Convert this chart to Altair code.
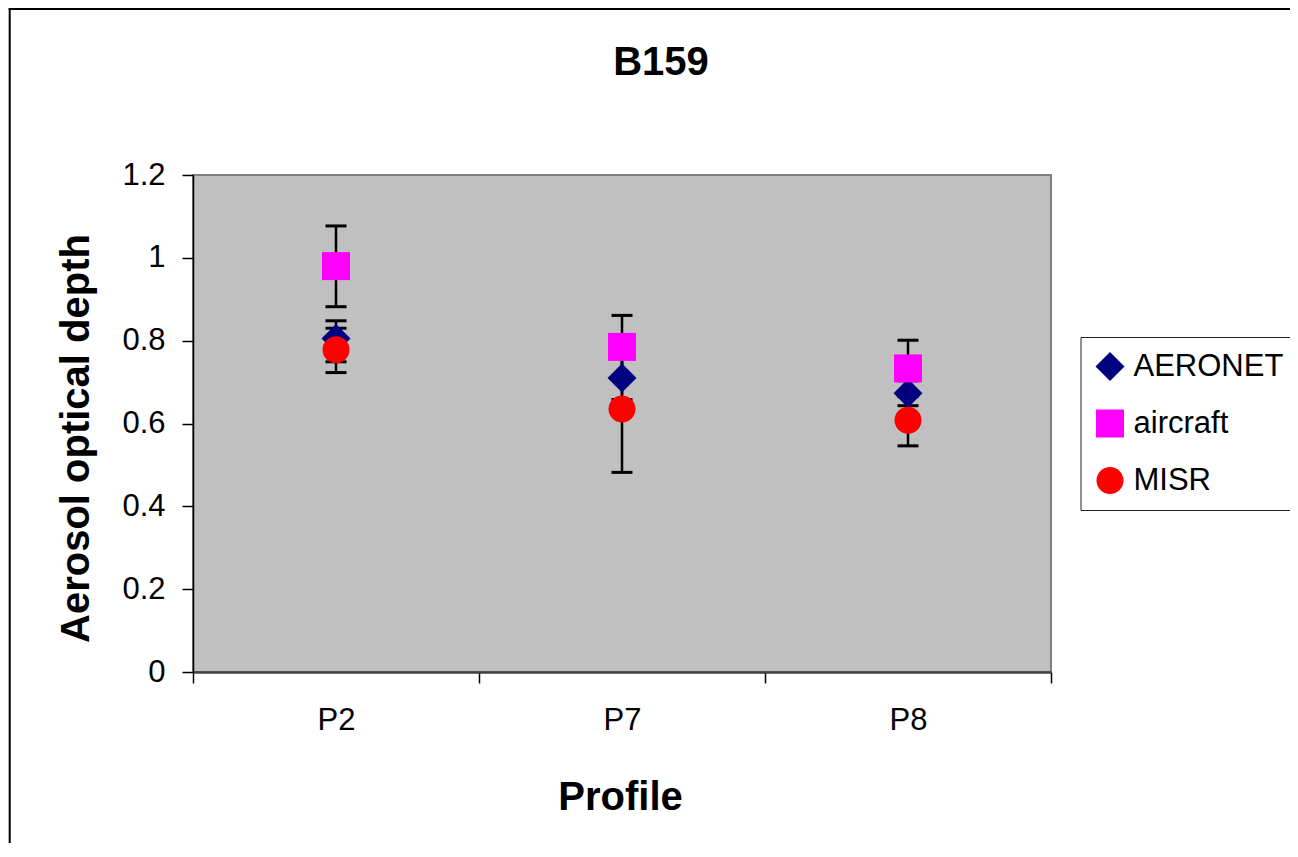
import json
import altair as alt
import pandas as pd

# ---- data ----
profiles = ["P2", "P7", "P8"]
series = ["AERONET", "aircraft", "MISR"]
colors = ["#000080", "#FF00FF", "#FF0000"]
shapes = ["diamond", "square", "circle"]
sizes = [841, 729, 729]

aeronet = [0.805, 0.710, 0.673]
aeronet_low = [0.749, 0.658, 0.643]
aeronet_high = [0.848, 0.762, 0.703]

aircraft = [0.980, 0.785, 0.733]
aircraft_low = [0.882, 0.709, 0.665]
aircraft_high = [1.077, 0.861, 0.801]

misr = [0.778, 0.635, 0.608]
misr_low = [0.723, 0.482, 0.546]
misr_high = [0.830, 0.788, 0.670]

y_ticks = [0, 0.2, 0.4, 0.6, 0.8, 1.0, 1.2]

vals = {"AERONET": (aeronet, aeronet_low, aeronet_high),
        "aircraft": (aircraft, aircraft_low, aircraft_high),
        "MISR": (misr, misr_low, misr_high)}

rows = []
for s in series:
    v, lo, hi = vals[s]
    for i, p in enumerate(profiles):
        rows.append({"series": s, "Profile": p, "pos": i + 0.5,
                     "value": v[i], "low": lo[i], "high": hi[i]})
df = pd.DataFrame(rows)

FONT = "Liberation Sans"
n = len(profiles)
x_vals = [k / 2 for k in range(2 * n + 1)]
label_expr = f"datum.value % 1 == 0.5 ? {json.dumps(profiles)}[floor(datum.value)] : ''"

x_scale = alt.Scale(domain=[0, n], nice=False, zero=False)
y_scale = alt.Scale(domain=[0, 1.2], nice=False)

x_axis = alt.Axis(values=x_vals, labelExpr=label_expr, labelOverlap=False, labelFlush=False,
                  tickOpacity={"condition": {"test": "datum.value % 1 != 0", "value": 0}, "value": 1},
                  tickSize=11, tickWidth=1.5, tickColor="black",
                  domainColor="#404040", domainWidth=2.5,
                  labelPadding=22, labelFontSize=31, labelFont=FONT, labelColor="black",
                  title="Profile", titleFont=FONT, titleFontSize=40, titleFontWeight="bold",
                  titleColor="black", titleX=427, titleY=137, titleBaseline="alphabetic",
                  titleAlign="center", grid=False)

y_axis = alt.Axis(values=y_ticks, format="~g", tickSize=11, tickWidth=1.5, tickColor="black",
                  domainColor="black", domainWidth=1.5, labelPadding=17, labelFontSize=31,
                  labelFont=FONT, labelColor="black",
                  title="Aerosol optical depth", titleFont=FONT, titleFontSize=40,
                  titleFontWeight="bold", titleColor="black", titleX=-105, titleY=263,
                  titleAngle=270, titleAlign="center", titleBaseline="alphabetic", grid=False)

one = alt.Data(values=[{"a": 1}])
frame_left = alt.Chart(one).mark_rule(color="black", strokeWidth=2).encode(
    x=alt.value(-183.3), y=alt.value(-167), y2=alt.value(900))
frame_top = alt.Chart(one).mark_rule(color="black", strokeWidth=2).encode(
    x=alt.value(-184.3), x2=alt.value(1500), y=alt.value(-166))

bars = alt.Chart(df).mark_rule(color="black", strokeWidth=2.5).encode(
    x=alt.X("pos:Q", scale=x_scale, axis=x_axis),
    y=alt.Y("low:Q", scale=y_scale, axis=y_axis),
    y2="high:Q",
)

caps_lo = alt.Chart(df).mark_tick(orient="horizontal", color="black", size=21, thickness=3,
                                  opacity=1).encode(
    x=alt.X("pos:Q", scale=x_scale), y=alt.Y("low:Q", scale=y_scale))
caps_hi = alt.Chart(df).mark_tick(orient="horizontal", color="black", size=21, thickness=3,
                                  opacity=1).encode(
    x=alt.X("pos:Q", scale=x_scale), y=alt.Y("high:Q", scale=y_scale))

legend = alt.Legend(title=None, orient="none", legendX=887.5, legendY=162,
                    strokeColor="#222222", padding=14, rowPadding=25,
                    labelFont=FONT, labelFontSize=31, labelColor="black",
                    labelOffset=8, symbolSize=480, symbolStrokeWidth=0)

points = alt.Chart(df).mark_point(filled=True, opacity=1, strokeWidth=0).encode(
    x=alt.X("pos:Q", scale=x_scale),
    y=alt.Y("value:Q", scale=y_scale),
    color=alt.Color("series:N", scale=alt.Scale(domain=series, range=colors), legend=legend),
    shape=alt.Shape("series:N", scale=alt.Scale(domain=series, range=shapes), legend=legend),
    size=alt.Size("series:N", scale=alt.Scale(domain=series, range=sizes), legend=None),
)

chart = alt.layer(frame_left, frame_top, bars, caps_lo, caps_hi, points).properties(
    width=858, height=497,
    background="white",
    autosize=alt.AutoSizeParams(type="none"),
    padding={"left": 185, "top": 167, "right": 239, "bottom": 171},
    title=alt.Title("B159", font=FONT, fontSize=40, fontWeight="bold", color="black",
                    anchor="middle", frame="group", dx=39, offset=-108, baseline="alphabetic"),
).configure_view(fill="#C0C0C0", stroke="#808080", strokeWidth=2)

chart.save("out.html", embed_options={"renderer": "svg", "actions": False})
